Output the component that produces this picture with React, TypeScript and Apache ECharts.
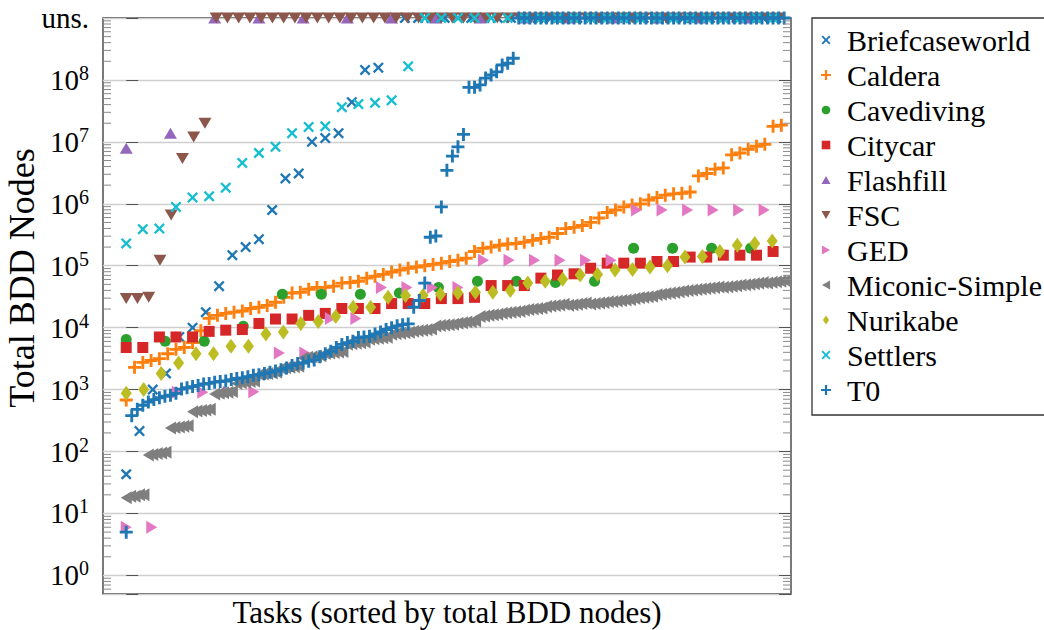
import React, { useEffect, useRef } from "react";
import * as echarts from "echarts";

// ---------- data ----------
const U = -1; // unsolved task ("uns.")
const uns = (k: number) => Array(k).fill(U);

const seriesNames = [
  "Briefcaseworld", "Caldera", "Cavediving", "Citycar", "Flashfill", "FSC",
  "GED", "Miconic-Simple", "Nurikabe", "Settlers", "T0",
];

const briefcaseworld = [
  43, 214, 1000, 1820, 7080, 10000, 17800, 46800, 148000, 200000, 269000, 794000,
  2570000, 3090000, 10000000, 11500000, 13800000, 43700000, 145000000, 158000000,
  ...uns(30),
];

const caldera = [
  680, 2290, 2750, 2950, 3160, 3800, 4470, 4790, 5750, 8910,
  14100, 15800, 17000, 17800, 18600, 20400, 21400, 22900, 25700, 30900,
  36300, 37200, 41700, 44700, 44700, 46800, 52500, 53700, 56200, 63100,
  67600, 72400, 79400, 85100, 91200, 95500, 100000, 105000, 110000, 117000,
  123000, 132000, 170000, 191000, 200000, 214000, 224000, 229000, 240000, 257000,
  275000, 288000, 331000, 398000, 417000, 447000, 501000, 589000, 724000, 794000,
  891000, 955000, 1000000, 1150000, 1260000, 1380000, 1450000, 1480000, 1550000, 2820000,
  3090000, 3630000, 3800000, 6170000, 6610000, 7590000, 8510000, 9120000, 17800000, 18600000,
];

const cavediving = [
  6460, 6030, 6030, 10500, 34700, 34700, 34700, 36300, 44700, 56200, 56200, 53700,
  56200, 191000, 191000, 191000, 191000,
];

const citycar = [
  4790, 4790, 7080, 7080, 7080, 8710, 9120, 9330, 11700, 13800, 13800, 15800, 17000,
  20400, 20400, 20400, 24500, 24500, 24500, 29500, 29500, 30900, 47900, 47900, 47900,
  63100, 70800, 74100, 91200, 110000, 110000, 110000, 117000, 117000, 138000, 138000,
  148000, 148000, 148000, 170000,
];

const flashfill = [7900000, 13800000, ...uns(13)];

const fsc = [29500, 29500, 30900, 123000, 661000, 5370000, 12000000, 20000000, ...uns(51)];

const ged = [
  6, 6, 910, 910, 910, 920, 3900, 3900, 14100, 14100, 44700, 44700, 44700, 44700,
  123000, 123000, 123000, 123000, 123000, 123000,
  794000, 794000, 794000, 794000, 794000, 794000,
];

const miconicSimple = [
  18, 19, 19, 20, 20,
  88, 90, 93, 95, 97,
  240, 245, 250, 255, 260,
  440, 450, 460, 470, 480,
  850, 870, 890, 910, 930,
  1250, 1290, 1320, 1350, 1380,
  1750, 1790, 1820, 1860, 1900,
  2200, 2250, 2290, 2340, 2390,
  3250, 3320, 3390, 3460, 3530,
  3820, 3900, 3980, 4060, 4140,
  5400, 5510, 5620, 5730, 5850,
  6500, 6630, 6760, 6900, 7030,
  7800, 7960, 8130, 8290, 8460,
  8750, 8930, 9120, 9300, 9490,
  10600, 10800, 11000, 11200, 11400,
  11800, 12000, 12300, 12500, 12800,
  15200, 15500, 15800, 16100, 16400,
  17100, 17400, 17800, 18100, 18500,
  19200, 19600, 20000, 20400, 20800,
  22000, 22400, 22900, 23300, 23800,
  23000, 23500, 24000, 24500, 25000,
  24100, 24600, 25100, 25600, 26100,
  26400, 26900, 27500, 28100, 28600,
  29700, 30300, 30900, 31500, 32100,
  34100, 34800, 35500, 36200, 36900,
  38200, 39000, 39800, 40600, 41400,
  42000, 42800, 43700, 44600, 45500,
  45000, 45900, 46800, 47700, 48700,
  49300, 50300, 51300, 52300, 53400,
  52800, 53900, 55000, 56100, 57200,
];

const nurikabe = [
  870, 1000, 1820, 2690, 3800, 3800, 5010, 5010, 7940, 8510, 11700, 12600, 15100,
  21400, 21400, 30900, 33100, 33100, 34700, 36300, 37200, 37200, 39800, 52500, 56200,
  60300, 70800, 72400, 85100, 87100, 95500, 100000, 138000, 141000, 170000, 214000,
  229000, 251000,
];

const settlers = [
  229000, 389000, 398000, 891000, 1260000, 1320000, 1820000, 4570000, 6610000,
  8320000, 13800000, 17400000, 17800000, 36300000, 40700000, 42700000, 46800000,
  166000000, ...uns(22),
];

const t0 = [
  5, 380, 480, 560, 630, 690, 740, 780, 810, 870,
  1020, 1070, 1120, 1170, 1230, 1260, 1320, 1350, 1380, 1450,
  1510, 1550, 1620, 1700, 1740, 1820, 1910, 2000, 2090, 2240,
  2450, 2630, 2690, 2880, 3020, 3390, 3800, 4170, 4790, 5370,
  5750, 6030, 6920, 7080, 7240, 7940, 8510, 9330, 10000, 10700,
  11200, 11500, 21400, 27500, 52500, 288000, 302000, 891000, 3470000, 5890000,
  8320000, 13200000, 75900000, 76000000, 83200000, 107000000, 120000000, 135000000, 174000000, 186000000,
  224000000,
  ...uns(49),
];

const seriesValues = [
  briefcaseworld, caldera, cavediving, citycar, flashfill, fsc,
  ged, miconicSimple, nurikabe, settlers, t0,
];

// axis ticks (log10 exponents) and labels
const yTickExponents = [0, 1, 2, 3, 4, 5, 6, 7, 8];
const UNS_LABEL = "uns.";
const Y_UNS = 9; // "uns." row sits one decade above 10^8
const MINOR_MULTIPLIERS = [2, 3, 4, 5, 6, 7, 8, 9];
const MINOR_DECADES = [-1, 0, 1, 2, 3, 4, 5, 6, 7, 8];

const X_TITLE = "Tasks (sorted by total BDD nodes)";
const Y_TITLE = "Total BDD Nodes";

// ---------- styling ----------
const FONT = "'Liberation Serif', 'DejaVu Serif', serif";
const FS = 29;
const Y_MIN = -0.3;
const X_MIN = -0.035;
const X_MAX = 1.002;

const colors = [
  "#1f77b4", "#ff7f0e", "#2ca02c", "#d62728", "#9467bd", "#8c564b",
  "#e377c2", "#7f7f7f", "#bcbd22", "#17becf", "#1f77b4",
];

const PLUS = "path://M3.9,0H6.1V3.9H10V6.1H6.1V10H3.9V6.1H0V3.9H3.9Z";
const CROSS =
  "path://M0,1.5L1.5,0L5,3.5L8.5,0L10,1.5L6.5,5L10,8.5L8.5,10L5,6.5L1.5,10L0,8.5L3.5,5Z";

type Mark = { symbol: string; size: number | number[]; rotate: number; icon: string };
const marks: Mark[] = [
  { symbol: CROSS, size: 11, rotate: 0, icon: "cross" },
  { symbol: PLUS, size: 13, rotate: 0, icon: "plus" },
  { symbol: "circle", size: 11, rotate: 0, icon: "circle" },
  { symbol: "rect", size: 11, rotate: 0, icon: "rect" },
  { symbol: "triangle", size: [13, 11], rotate: 0, icon: "up" },
  { symbol: "triangle", size: [13, 11], rotate: 180, icon: "down" },
  { symbol: "triangle", size: [13, 11], rotate: -90, icon: "right" },
  { symbol: "triangle", size: [13, 11], rotate: 90, icon: "left" },
  { symbol: "diamond", size: [11, 15], rotate: 0, icon: "diamond" },
  { symbol: CROSS, size: 11, rotate: 0, icon: "cross" },
  { symbol: PLUS, size: 13, rotate: 0, icon: "plus" },
];

// legend icon outlines on a 10x10 box
const ICON_PTS: Record<string, number[][]> = {
  cross: [[0, 1.5], [1.5, 0], [5, 3.5], [8.5, 0], [10, 1.5], [6.5, 5], [10, 8.5], [8.5, 10], [5, 6.5], [1.5, 10], [0, 8.5], [3.5, 5]],
  plus: [[3.9, 0], [6.1, 0], [6.1, 3.9], [10, 3.9], [10, 6.1], [6.1, 6.1], [6.1, 10], [3.9, 10], [3.9, 6.1], [0, 6.1], [0, 3.9], [3.9, 3.9]],
  up: [[5, 0.5], [10, 9.5], [0, 9.5]],
  down: [[0, 0.5], [10, 0.5], [5, 9.5]],
  right: [[0.5, 0], [9.5, 5], [0.5, 10]],
  left: [[9.5, 0], [0.5, 5], [9.5, 10]],
  diamond: [[5, 0], [8.5, 5], [5, 10], [1.5, 5]],
};

export default function App() {
  const ref = useRef<HTMLDivElement>(null);

  useEffect(() => {
    if (!ref.current) return;
    const chart = echarts.init(ref.current, undefined, { renderer: "svg" });

    const scatter = seriesValues.map((vals, si) => {
      const n = vals.length;
      return {
        name: seriesNames[si],
        type: "scatter",
        clip: false,
        symbol: marks[si].symbol,
        symbolSize: marks[si].size,
        symbolRotate: marks[si].rotate,
        itemStyle: { color: colors[si], opacity: 1 },
        emphasis: { disabled: true },
        data: vals.map((v, i) => [i / n, v === U ? Y_UNS : Math.log10(v)]),
        z: 3 + si,
      };
    });

    const minorData: number[][] = [];
    MINOR_DECADES.forEach((d) =>
      MINOR_MULTIPLIERS.forEach((k) => {
        const lv = Math.log10(k) + d;
        if (lv > Y_MIN && lv < Y_UNS) minorData.push([X_MIN, lv]);
      })
    );

    const minorTicks = {
      type: "custom",
      name: "minor",
      silent: true,
      clip: false,
      z: 20,
      data: minorData,
      renderItem: (_p: any, api: any) => {
        const v = api.value(1);
        const l = api.coord([X_MIN, v]);
        const r = api.coord([X_MAX, v]);
        const st = { stroke: "#8a8a8a", lineWidth: 1 };
        return {
          type: "group",
          children: [
            { type: "line", shape: { x1: l[0], y1: l[1], x2: l[0] + 8, y2: l[1] }, style: st },
            { type: "line", shape: { x1: r[0] - 8, y1: r[1], x2: r[0], y2: r[1] }, style: st },
          ],
        };
      },
    };

    const yCommon = {
      type: "value",
      min: Y_MIN,
      max: Y_UNS,
      minInterval: 1,
      maxInterval: 1,
      axisLine: { show: false },
    };

    const textEl = (text: string, x: number, y: number, size: number, align: string, rotation = 0) => ({
      type: "text",
      x,
      y,
      rotation,
      silent: true,
      z: 100,
      style: {
        text,
        fontSize: size,
        fontFamily: FONT,
        fill: "#000",
        align,
        verticalAlign: "middle",
      },
    });

    // hand-drawn legend (box, icons, names)
    const LEG_X = 812, LEG_Y = 18, LEG_H = 397, ROW0 = 40, ROW_STEP = 35, ICON_CX = 826, TEXT_X = 847;
    const legendEls: any[] = [
      {
        type: "rect",
        silent: true,
        z: 50,
        shape: { x: LEG_X, y: LEG_Y, width: 260, height: LEG_H },
        style: { fill: "#fff", stroke: "#333", lineWidth: 1.3 },
      },
    ];
    seriesNames.forEach((nm, k) => {
      const cy = ROW0 + ROW_STEP * k;
      const icon = marks[k].icon;
      const col = colors[k];
      if (icon === "circle") {
        legendEls.push({ type: "circle", silent: true, z: 101, shape: { cx: ICON_CX, cy, r: 4.3 }, style: { fill: col } });
      } else if (icon === "rect") {
        legendEls.push({ type: "rect", silent: true, z: 101, shape: { x: ICON_CX - 4.3, y: cy - 4.3, width: 8.6, height: 8.6 }, style: { fill: col } });
      } else {
        const s = icon === "plus" ? 10 : 9;
        const pts = ICON_PTS[icon].map(([px, py]) => [ICON_CX + ((px - 5) * s) / 10, cy + ((py - 5) * s) / 10]);
        legendEls.push({ type: "polygon", silent: true, z: 101, shape: { points: pts }, style: { fill: col } });
      }
      legendEls.push(textEl(nm, TEXT_X, cy, 30, "left"));
    });

    chart.setOption({
      animation: false,
      textStyle: { fontFamily: FONT },
      grid: {
        left: 103,
        right: 253,
        top: 18,
        bottom: 36,
        show: true,
        borderColor: "#333",
        borderWidth: 1.3,
        backgroundColor: "transparent",
        outerBoundsMode: "none",
        containLabel: false,
      },
      xAxis: {
        type: "value",
        min: X_MIN,
        max: X_MAX,
        axisLine: { show: false },
        axisTick: { show: false },
        axisLabel: { show: false },
        splitLine: { show: false },
      },
      yAxis: [
        {
          ...yCommon,
          position: "left",
          axisTick: { show: true, inside: true, length: 12, lineStyle: { color: "#555", width: 1 } },
          splitLine: { show: true, lineStyle: { color: "#cfcfcf", width: 1.3 } },
          axisLabel: {
            margin: 14,
            color: "#000",
            fontSize: FS,
            fontFamily: FONT,
            formatter: (v: number) => {
              if (Math.abs(v - Y_UNS) < 1e-6) return UNS_LABEL;
              const r = Math.round(v);
              if (Math.abs(v - r) > 1e-6 || !yTickExponents.includes(r)) return "";
              return `{b|10}{s|${r}}`;
            },
            rich: {
              b: { fontSize: FS, fontFamily: FONT, color: "#000", lineHeight: 34, verticalAlign: "middle" },
              s: { fontSize: 20, fontFamily: FONT, color: "#000", lineHeight: 20, verticalAlign: "top" },
            },
          },
        },
        {
          ...yCommon,
          position: "right",
          axisTick: { show: true, inside: true, length: 12, lineStyle: { color: "#555", width: 1 } },
          splitLine: { show: false },
          axisLabel: { show: false },
        },
      ],
      graphic: [
        textEl(Y_TITLE, 22, 278, 36, "center", Math.PI / 2),
        textEl(X_TITLE, 447, 612, 31, "center"),
        ...legendEls,
      ],
      series: [...scatter, minorTicks],
    });

    return () => chart.dispose();
  }, []);

  return (
    <div
      ref={ref}
      style={{ position: "fixed", left: 0, top: 0, width: 1044, height: 630, background: "#fff" }}
    />
  );
}
